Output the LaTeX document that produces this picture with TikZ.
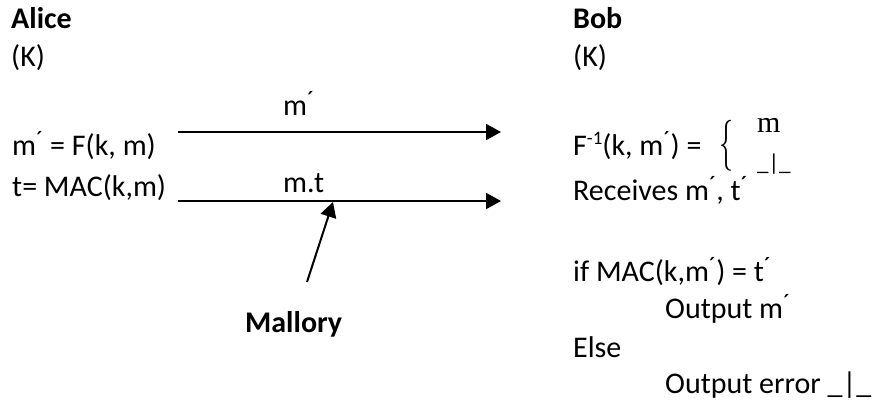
\documentclass[tikz,border=0pt]{standalone}
\usepackage{fontspec}
\usepackage{graphicx}
\setmainfont{Carlito}
\newfontfamily\seriff{Liberation Serif}
\usetikzlibrary{arrows.meta}
\newcommand\pr{\raisebox{7pt}{\fontsize{25}{25}\selectfont ´}}
\tikzset{
  txt/.style={anchor=base west, inner sep=0pt, font=\fontsize{30}{36}\selectfont},
  bold/.style={txt, font=\fontsize{30}{36}\selectfont\bfseries},
  msg/.style={line width=2pt, -{Triangle[length=15pt,width=16pt]}},
}
\begin{document}
\begin{tikzpicture}[x=1pt,y=-1pt]
\useasboundingbox (0,0) rectangle (881,402);
% Alice
\node[bold] (alice) at (11,28) {Alice};
\node[txt] (ak) at (11,66) {(K)};
\node[txt] (amF) at (12,155) {m\pr\ = F(k, m)};
\node[txt] (atM) at (12,196) {t= MAC(k,m)};
% Bob
\node[bold] (bob) at (573,28) {Bob};
\node[txt] (bk) at (573,66) {(K)};
\node[txt] (binv) at (573,155) {F\raisebox{11pt}{\fontsize{19}{19}\selectfont -1}(k, m\pr) = };
\node[inner sep=0pt] (brace) at (726,146) {\resizebox*{14pt}{51pt}{$\{$}};
\node[txt, font=\seriff\fontsize{30}{36}\selectfont] (bm) at (757,132) {m};
\node[txt, font=\fontsize{23}{26}\selectfont] (bbot) at (757,170) {\_|\_};
\node[txt] (brec) at (573,200) {Receives m\pr, t\pr};
\node[txt] (bif) at (573,281) {if MAC(k,m\pr) = t\pr};
\node[txt] (bout) at (665,318) {Output m\pr};
\node[txt] (belse) at (573,357) {Else};
\node[txt] (berr) at (665,393) {Output error \_|\_};
% Mallory
\node[bold] (mal) at (245,332) {Mallory};
% messages
\coordinate (s1) at (178,132);
\coordinate (e1) at (501,132);
\coordinate (s2) at (178,201);
\coordinate (e2) at (501,201);
\coordinate (ms) at (307,282);
\coordinate (me) at (333,202);
\draw[msg] (s1) -- (e1);
\draw[msg] (s2) -- (e2);
\draw[msg] (ms) -- (me);
\node[txt] (l1) at (283,115) {m\pr};
\node[txt] (l2) at (283,192) {m.t};
\end{tikzpicture}
\end{document}
